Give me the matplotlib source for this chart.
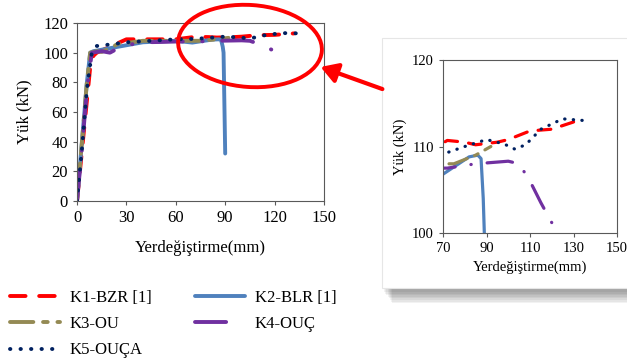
import matplotlib.pyplot as plt
from matplotlib.patches import Ellipse, Rectangle, FancyArrowPatch

plt.rcParams['font.family'] = 'serif'
plt.rcParams['font.serif'] = ['Liberation Serif', 'DejaVu Serif']

# load-displacement data (mm, kN)
k1_x = [0, 4, 8, 10, 12, 20, 30, 45, 60, 72, 80, 85, 95, 100, 110, 120, 132]
k1_y = [0, 45, 90, 98, 100, 104, 109, 109, 109, 110.7, 110.5, 110.2, 110.5, 110.8, 111.8, 112.0, 113.0]
k2_x = [0, 3, 6, 8, 10, 20, 40, 60, 70, 76, 82, 86, 87.5, 88.5, 89, 90]
k2_y = [0, 40, 80, 100, 101, 103, 107, 108, 106.8, 107.8, 108.8, 109.0, 108.6, 104, 100, 32]
k3_x = [0, 3, 6, 8, 12, 15, 20, 25, 30, 40, 60, 75, 85, 92]
k3_y = [0, 40, 80, 100, 101, 100.5, 103, 106, 106.5, 108, 108, 108.0, 109.0, 110.0]
k4_x = [0, 3, 6, 9, 15, 20, 25, 30, 40, 50, 60, 72, 85, 95, 100, 105, 110, 115, 120]
k4_y = [0, 35, 75, 100, 101, 100, 103, 105, 107, 107.2, 107.5, 107.5, 108.0, 108.2, 108.3, 108.0, 106, 103.5, 101.2]
k5_x = [0, 3, 6, 9, 12, 20, 30, 45, 60, 72, 80, 90, 98, 103, 108, 115, 125, 135]
k5_y = [0, 35, 75, 100, 104.5, 105.5, 107, 108, 109, 109.3, 110.0, 110.8, 110.3, 109.7, 110.2, 112.0, 113.2, 113.0]

labels = ['K1-BZR [1]', 'K2-BLR [1]', 'K3-OU', 'K4-OUÇ', 'K5-OUÇA']
colors = ['#ff0000', '#4f81bd', '#948a54', '#7030a0', '#002060']
styles = [(0, (4, 3.5)), '-', (0, (6, 2.5, 1.2, 2.5)), (0, (8, 5, 0.1, 5)), (0, (0.1, 2.6))]
series = [(k1_x, k1_y), (k2_x, k2_y), (k3_x, k3_y), (k4_x, k4_y), (k5_x, k5_y)]

fig = plt.figure(figsize=(6.27, 3.63), dpi=100)

# overlay for decorations (pixel coords)
deco = fig.add_axes([0, 0, 1, 1], zorder=0)
deco.set_xlim(0, 627)
deco.set_ylim(363, 0)
deco.axis('off')

# inset panel with soft shadow
for i in range(8):
    deco.add_patch(Rectangle((384 + i * 1.2, 40 + i * 1.6), 260, 252, facecolor='#000000',
                             alpha=0.05, edgecolor='none'))
deco.add_patch(Rectangle((382, 38), 260, 250, facecolor='white', edgecolor='#e6e6e6', lw=0.8))


def draw_lines(ax, lw):
    lines = []
    for (x, y), c, ls, lab in zip(series, colors, styles, labels):
        ln, = ax.plot(x, y, color=c, linestyle=ls, lw=lw, label=lab,
                      dash_capstyle='round', solid_capstyle='round')
        lines.append(ln)
    return lines


def style_axes(ax, size):
    for s in ax.spines.values():
        s.set_color('#595959')
        s.set_linewidth(0.8)
    ax.tick_params(labelsize=size, length=3, color='#595959', direction='out')


# main chart
ax = fig.add_axes([77 / 627, 1 - 201 / 363, 247 / 627, 178 / 363], zorder=2)
lines = draw_lines(ax, 2.8)
ax.set_xlim(0, 150)
ax.set_ylim(0, 120)
ax.set_xticks(range(0, 151, 30))
ax.set_yticks(range(0, 121, 20))
ax.set_xlabel('Yerdeğiştirme(mm)', fontsize=12, labelpad=10)
ax.set_ylabel('Yük (kN)', fontsize=12, labelpad=8)
style_axes(ax, 12)

# zoomed inset
ax2 = fig.add_axes([443 / 627, 1 - 233 / 363, 174 / 627, 173 / 363], zorder=2)
draw_lines(ax2, 2.3)
ax2.set_xlim(70, 150)
ax2.set_ylim(100, 120)
ax2.set_xticks(range(70, 151, 20))
ax2.set_yticks([100, 110, 120])
ax2.set_xlabel('Yerdeğiştirme(mm)', fontsize=10.5)
ax2.set_ylabel('Yük (kN)', fontsize=10.5)
style_axes(ax2, 10.5)

# red ellipse and arrow
top = fig.add_axes([0, 0, 1, 1], zorder=3)
top.set_xlim(0, 627)
top.set_ylim(363, 0)
top.axis('off')
top.add_patch(Ellipse((250, 46), 144, 82, angle=4, fill=False, edgecolor='#ff0000', lw=2.8))
top.add_patch(FancyArrowPatch((385, 90), (318, 66), arrowstyle='-|>,head_length=10,head_width=6',
                              color='#ff0000', lw=3, mutation_scale=1))

# legend
fig.legend(handles=lines[0:1] + lines[2:3] + lines[4:5] + lines[1:2] + lines[3:4],
           labels=[labels[0], labels[2], labels[4], labels[1], labels[3]],
           ncol=2, loc='upper left', bbox_to_anchor=(3 / 627, 1 - 283 / 363),
           borderaxespad=0, frameon=False, fontsize=12, handlelength=3.0,
           handletextpad=0.6, columnspacing=2.6, labelspacing=0.62)

fig.savefig('out.png', dpi=100)
